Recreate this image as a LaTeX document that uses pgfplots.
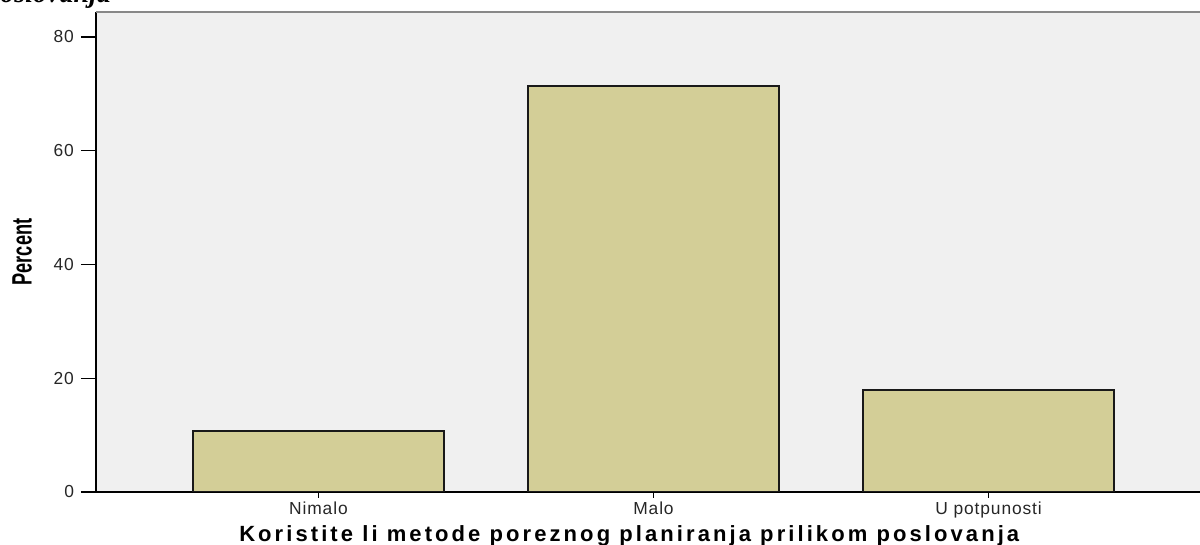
\documentclass[border=0pt]{standalone}
\usepackage{pgfplots}
\pgfplotsset{compat=1.18}
\usepackage{fontspec}
\usepackage{graphicx}
\setmainfont{Liberation Sans}
\newfontfamily\titlefont{Liberation Serif}
\newfontfamily\labfont[LetterSpace=14]{Liberation Sans}
\newfontfamily\tickfont[LetterSpace=5]{Liberation Sans}
\definecolor{bgc}{HTML}{F0F0F0}
\definecolor{barc}{HTML}{D3CE97}
\definecolor{topc}{HTML}{888888}
\begin{document}
\begin{tikzpicture}
\begin{axis}[
  at={(0,0)}, anchor=south west,
  scale only axis, width=552pt, height=240pt,
  xmin=-0.664, xmax=2.631, ymin=0, ymax=84.4,
  axis x line*=bottom, axis y line*=left,
  axis line style={-, black, line width=0.75pt},
  axis background/.style={fill=bgc},
  ybar, bar width=0.75,
  xtick={0,1,2}, xticklabels={Nimalo,Malo,U potpunosti},
  ytick={0,20,40,60,80},
  tick align=outside,
  major tick length=7.5pt,
  xtick style={/pgfplots/major tick length=3pt, black, line width=0.6pt},
  ytick style={black, line width=0.6pt},
  /pgf/number format/assume math mode=true,
  ticklabel style={font=\tickfont\fontsize{8.7}{10}\selectfont, text=black!85},
  xticklabel style={yshift=6pt},
  xlabel={Koristite li metode poreznog planiranja prilikom poslovanja},
  xlabel style={at={(axis description cs:0.483,-0.104)}, anchor=base,
    font=\labfont\bfseries\fontsize{11}{12}\selectfont},
  ylabel={\scalebox{0.65}[1]{Percent}},
  ylabel style={at={(axis description cs:-0.067,0.5)}, anchor=center,
    font=\bfseries\fontsize{14}{14}\selectfont},
]
\addplot[fill=barc, draw=black!90, line width=0.8pt] coordinates {(0,10.7) (1,71.4) (2,17.9)};
\draw[topc, line width=1.2pt] (rel axis cs:0,1) -- (rel axis cs:1,1);
\end{axis}
\node[anchor=base east, font=\titlefont\bfseries\itshape\fontsize{14}{14}\selectfont] at (11pt,244.8pt) {Koristite li metode poreznog planiranja prilikom poslovanja};
\pgfresetboundingbox
\useasboundingbox (-48pt,-26.5pt) rectangle (552pt,246pt);
\end{tikzpicture}
\end{document}
